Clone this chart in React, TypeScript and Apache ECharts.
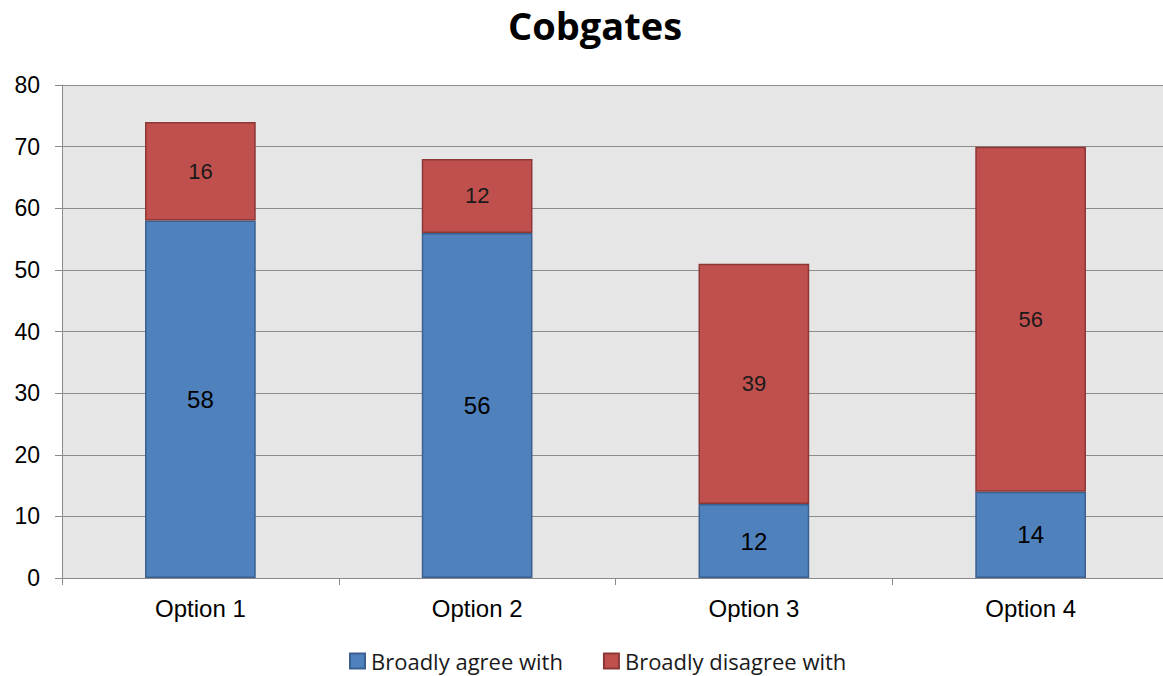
import React, { useEffect, useRef } from "react";
import * as echarts from "echarts";

const categories = ["Option 1", "Option 2", "Option 3", "Option 4"];
const agreeValues = [58, 56, 12, 14];
const disagreeValues = [16, 12, 39, 56];
const seriesNames = ["Broadly agree with", "Broadly disagree with"];
const titleText = "Cobgates";

export default function App() {
  const ref = useRef<HTMLDivElement>(null);

  useEffect(() => {
    if (!ref.current) return;
    const chart = echarts.init(ref.current, undefined, { renderer: "svg" });
    chart.setOption({
      animation: false,
      backgroundColor: "#ffffff",
      graphic: [
        {
          type: "text",
          x: 595,
          y: 6,
          style: {
            text: titleText,
            fontFamily: "Open Sans",
            fontWeight: "bold",
            fontSize: 38,
            fill: "#000000",
            align: "center",
            verticalAlign: "top",
          },
        },
      ],
      legend: {
        data: seriesNames,
        left: 349,
        top: 646,
        padding: 0,
        itemWidth: 15,
        itemHeight: 15,
        itemGap: 40,
        icon: "rect",
        textStyle: {
          fontFamily: "Open Sans",
          fontSize: 22,
          lineHeight: 30,
          color: "#1a1a1a",
          padding: [0, 0, 0, 1],
        },
      },
      grid: {
        left: 62,
        right: -6,
        top: 85,
        bottom: 98,
        outerBoundsMode: "none",
        backgroundColor: "#e6e6e6",
        show: true,
        borderWidth: 0,
      },
      xAxis: {
        type: "category",
        data: categories,
        axisLine: { lineStyle: { color: "#8a8a8a", width: 1 } },
        axisTick: { show: true, length: 7, alignWithLabel: false, lineStyle: { color: "#8a8a8a" } },
        axisLabel: { fontFamily: "Liberation Sans", fontSize: 24, color: "#000000", margin: 18 },
      },
      yAxis: {
        type: "value",
        min: 0,
        max: 80,
        interval: 10,
        axisLine: { show: true, lineStyle: { color: "#8a8a8a", width: 1 } },
        axisTick: { show: true, length: 7, lineStyle: { color: "#8a8a8a" } },
        splitLine: { lineStyle: { color: "#8c8c8c", width: 1 } },
        axisLabel: { fontFamily: "Liberation Sans", fontSize: 23, color: "#000000", margin: 22 },
      },
      series: [
        {
          name: seriesNames[0],
          type: "bar",
          stack: "total",
          barWidth: "40%",
          data: agreeValues,
          itemStyle: { color: "#4f81bd", borderColor: "#3a6090", borderWidth: 1.5 },
          label: { show: true, position: "inside", fontFamily: "Liberation Sans", fontSize: 24, color: "#000000" },
        },
        {
          name: seriesNames[1],
          type: "bar",
          stack: "total",
          barWidth: "40%",
          data: disagreeValues,
          itemStyle: { color: "#c0504d", borderColor: "#8c3836", borderWidth: 1.5 },
          label: { show: true, position: "inside", fontFamily: "Liberation Sans", fontSize: 22, color: "#1a1a1a" },
        },
      ],
    });
    return () => chart.dispose();
  }, []);

  return (
    <div
      ref={ref}
      style={{ position: "fixed", left: 0, top: 0, width: 1163, height: 676 }}
    />
  );
}
